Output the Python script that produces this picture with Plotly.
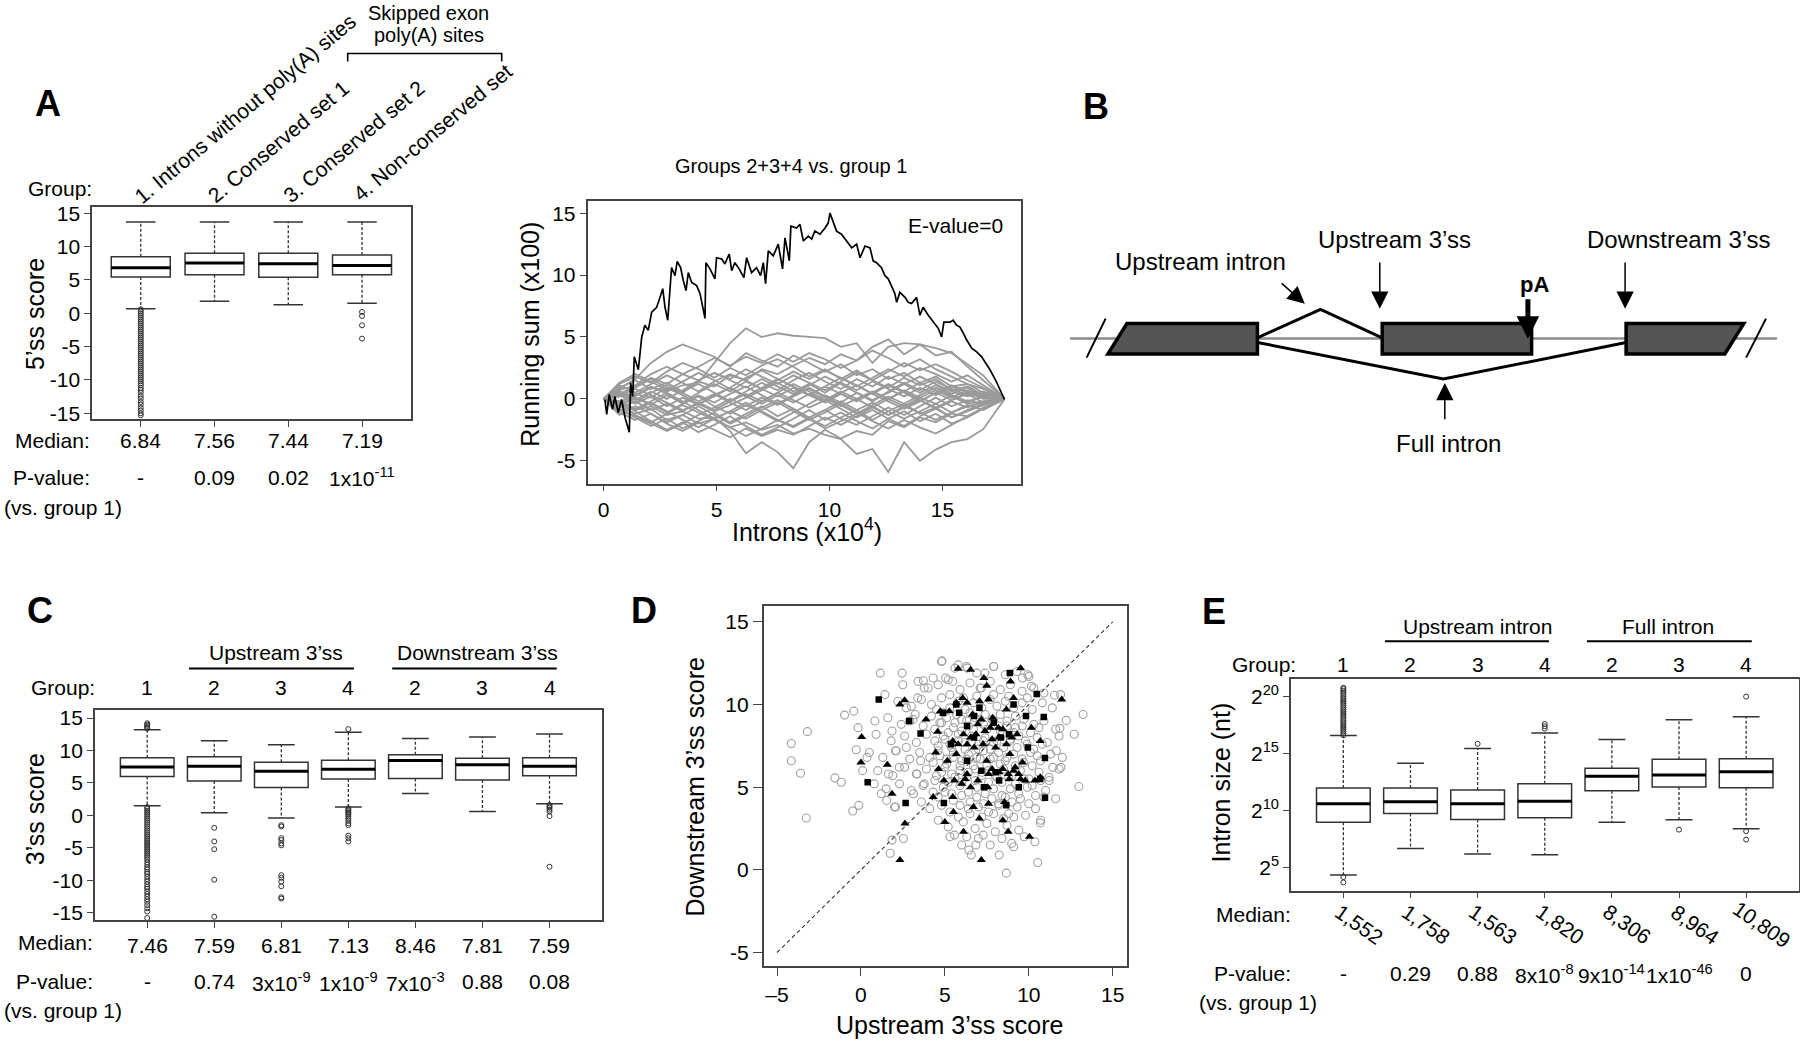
import plotly.graph_objects as go

W, H = 1800, 1045
FONT = "Liberation Sans, Arial, Helvetica, sans-serif"
FRAME = "#444444"
BOXC = "#333333"
TS = 21      # annotation text size
TICK = 21    # tick label size
TITLE = 25   # axis title size

# ---------------- Panel A : 5'ss score ----------------
A_pos = [1, 2, 3, 4]
A_labels = ["1. Introns without poly(A) sites", "2. Conserved set 1",
            "3. Conserved set 2", "4. Non-conserved set"]
A_q1 = [5.45, 5.8, 5.4, 5.8]
A_median = [6.84, 7.56, 7.44, 7.19]
A_q3 = [8.5, 9.0, 9.0, 8.76]
A_lo = [0.7, 1.8, 1.3, 1.5]
A_hi = [13.7, 13.7, 13.7, 13.7]
A_out = [
    [0.6, 0.3, 0.0, -0.3, -0.6, -0.9, -1.2, -1.5, -1.8, -2.1, -2.4, -2.7, -3.0, -3.3, -3.6,
     -3.9, -4.2, -4.5, -4.8, -5.1, -5.4, -5.7, -6.0, -6.3, -6.6, -6.9, -7.2, -7.5, -7.8,
     -8.1, -8.4, -8.7, -9.0, -9.3, -9.6, -9.9, -10.2, -10.5, -10.8, -11.2, -11.5, -11.9,
     -12.4, -12.8, -13.3, -13.7, -14.2, -14.6, -15.0, -15.3],
    [], [],
    [0.2, -0.4, -1.8, -3.8],
]
A_pval = ["-", "0.09", "0.02", "1x10<sup>-11</sup>"]

# ---------------- Panel A2 : running sums ----------------
RS_x = [0.06, 0.14, 0.25, 0.40, 0.50, 0.65, 0.80, 0.95, 1.14, 1.20,
        1.29, 1.36, 1.54, 1.69, 1.83, 1.98, 2.13, 2.35, 2.50, 2.62,
        2.72, 2.84, 3.01, 3.16, 3.26, 3.41, 3.53, 3.65, 3.75, 3.90,
        4.12, 4.27, 4.49, 4.53, 4.71, 4.93, 5.00, 5.23, 5.37, 5.56,
        5.67, 5.81, 6.00, 6.21, 6.33, 6.55, 6.77, 6.95, 7.07, 7.17,
        7.29, 7.51, 7.73, 7.92, 8.03, 8.22, 8.29, 8.54, 8.69, 8.84,
        9.06, 9.21, 9.35, 9.58, 9.80, 9.94, 10.02, 10.16, 10.31, 10.53,
        10.75, 10.98, 11.20, 11.35, 11.57, 11.79, 11.93, 12.08, 12.30, 12.45,
        12.60, 12.75, 12.89, 12.97, 13.11, 13.34, 13.48, 13.63, 13.85, 14.00,
        14.14, 14.37, 14.59, 14.81, 14.96, 15.06, 15.33, 15.47, 15.62, 15.77,
        15.92, 16.07, 16.29, 16.51, 16.73, 16.95, 17.10, 17.38, 17.54, 17.74]
RS_y = [-0.05, -1.25, 0.35, -0.85, 0.2, -1.1, -0.05, -1.5, -2.7, 1.3,
        0.2, 3.4, 2.35, 5.0, 5.95, 5.55, 7.0, 7.4, 8.2, 8.9,
        7.4, 6.35, 10.6, 9.95, 11.1, 10.6, 9.55, 8.75, 10.2, 9.4,
        9.15, 8.5, 6.5, 11.0, 10.5, 9.7, 11.4, 11.3, 10.9, 11.7,
        10.35, 11.0, 10.5, 9.8, 11.4, 10.2, 10.6, 9.95, 11.0, 9.3,
        11.95, 11.55, 12.5, 10.5, 13.0, 11.15, 13.95, 13.8, 14.1, 12.75,
        13.15, 12.9, 13.55, 13.3, 13.8, 14.2, 15.0, 14.35, 13.55, 13.3,
        12.75, 12.2, 12.5, 11.4, 12.35, 12.2, 11.15, 11.0, 10.6, 9.95,
        9.7, 9.0, 8.5, 7.8, 8.6, 8.2, 7.8, 7.7, 8.2, 6.75,
        7.4, 6.75, 6.2, 5.7, 5.0, 6.2, 6.2, 6.35, 5.95, 5.8,
        5.3, 4.75, 4.1, 3.8, 3.4, 2.75, 2.35, 1.4, 0.75, -0.05]

NULL_x = [0, 0.7, 1.4, 2.1, 2.8, 3.5, 4.2, 4.9, 5.6, 6.3, 7.0, 7.7, 8.4, 9.1, 9.8,
          10.5, 11.2, 11.9, 12.6, 13.3, 14.0, 14.7, 15.4, 16.1, 16.8, 17.75]
NULL_walks = [
    [0, 0.5, 0.2, 0.9, 0.6, 1.1, 1.3, 2.9, 4.5, 5.7, 5.0, 5.3, 5.1, 5.0, 4.9, 4.2, 4.5, 2.9, 4.2, 4.5, 4.4, 4.1, 3.7, 2.8, 1.9, 0],
    [0, 0.8, 1.6, 2.9, 3.8, 4.4, 3.9, 3.4, 2.6, 3.7, 3.1, 2.6, 3.5, 2.9, 2.2, 2.8, 1.9, 2.4, 1.6, 2.1, 1.3, 1.8, 1.0, 1.2, 0.5, 0],
    [0, -0.3, 0.4, 0.1, 0.9, 0.5, 1.4, 1.0, 1.9, 1.5, 2.4, 2.0, 2.7, 3.3, 2.8, 3.6, 3.1, 4.2, 4.8, 3.6, 4.4, 3.5, 3.8, 2.6, 1.5, 0],
    [0, -0.4, -0.9, -0.6, -1.3, -1.0, -1.6, -1.5, -2.6, -4.4, -3.5, -4.3, -5.6, -3.5, -2.5, -3.2, -2.6, -2.9, -1.8, -2.3, -1.5, -1.9, -1.2, -1.4, -0.7, 0],
    [0, -0.6, -1.2, -0.8, -1.7, -1.3, -2.0, -1.6, -2.3, -1.9, -2.5, -2.1, -2.8, -2.4, -2.9, -3.25, -4.45, -4.05, -5.9, -3.5, -5.0, -4.1, -3.5, -3.25, -2.45, 0],
    [0, 1.2, 1.8, 1.3, 2.2, 2.9, 2.4, 1.7, 2.5, 1.9, 2.7, 3.2, 2.6, 1.8, 2.4, 1.6, 2.3, 1.5, 0.9, 1.7, 1.1, 1.6, 0.7, 1.0, 0.3, 0],
    [0, -0.9, -1.5, -2.2, -1.6, -2.4, -1.8, -1.1, -1.9, -1.2, -0.6, -1.4, -0.8, -1.6, -2.2, -1.5, -0.9, -1.7, -1.0, -0.4, -1.2, -0.7, -1.5, -0.9, -0.4, 0],
    [0, 0.6, 0.1, -0.5, 0.3, -0.3, 0.5, 1.2, 0.6, 1.4, 0.8, 0.2, 0.9, 0.3, 1.0, 0.4, -0.2, 0.6, 0.0, 0.7, 0.1, -0.4, 0.3, -0.2, 0.2, 0],
    [0, -0.2, -1.0, -1.8, -2.5, -1.9, -2.7, -2.1, -1.4, -2.2, -2.9, -2.3, -1.6, -0.9, -1.7, -1.1, -1.8, -2.4, -1.6, -2.2, -1.4, -0.8, -1.5, -1.0, -0.5, 0],
    [0, 0.9, 1.5, 0.8, 1.3, 0.6, 1.2, 0.5, -0.2, 0.6, 1.3, 0.7, 1.5, 2.1, 1.4, 0.8, 1.6, 1.0, 1.8, 1.2, 0.5, 1.1, 0.4, 0.9, 0.2, 0],
    [0, -0.5, 0.3, 1.0, 0.4, -0.4, 0.2, -0.6, -1.2, -0.5, -1.1, -1.8, -1.1, -0.4, 0.3, -0.3, 0.5, -0.2, 0.6, 1.3, 0.7, 1.4, 0.8, 0.3, 0.6, 0],
    [0, 0.4, 1.0, 1.7, 1.2, 2.0, 2.6, 3.3, 2.7, 3.4, 2.9, 3.6, 3.0, 3.7, 3.2, 2.5, 3.1, 3.9, 3.3, 2.6, 3.2, 2.4, 1.8, 1.2, 0.8, 0],
    [0, -1.1, -1.7, -1.2, -2.0, -2.6, -1.9, -2.5, -3.1, -2.4, -3.0, -2.5, -2.9, -2.2, -1.5, -2.1, -1.4, -0.7, -1.3, -0.6, -1.1, -1.7, -1.1, -0.5, -0.9, 0],
    [0, 0.3, -0.4, 0.2, -0.6, 0.1, -0.5, 0.3, 0.9, 0.2, -0.4, 0.3, -0.3, 0.4, -0.2, 0.5, 1.1, 0.4, -0.2, -0.8, -0.2, 0.5, -0.1, 0.4, -0.3, 0],
    [0, 1.1, 0.5, 1.2, 1.9, 1.3, 0.6, 1.4, 2.0, 1.5, 0.8, 1.5, 2.2, 1.6, 2.3, 1.7, 1.0, 1.7, 2.4, 1.8, 2.5, 2.0, 1.4, 1.9, 1.1, 0],
    [0, -0.7, -0.2, -0.9, -0.4, -1.0, -0.3, -0.9, -0.2, 0.4, -0.2, 0.5, -0.1, -0.7, -0.1, -0.8, -1.5, -0.9, -1.6, -1.0, -1.8, -1.2, -2.0, -1.5, -0.8, 0],
    [0, 0.2, 0.8, 0.3, -0.3, -0.9, -0.4, -1.0, -0.5, 0.1, 0.7, 1.3, 0.6, 1.2, 0.5, 1.3, 0.7, 1.4, 0.8, 0.2, 0.9, 0.3, 1.0, 0.5, 0.1, 0],
    [0, -0.3, -1.3, -1.9, -1.2, -0.5, -1.1, -1.7, -2.3, -3.0, -2.4, -1.7, -2.3, -1.6, -2.4, -1.8, -1.2, -0.6, -1.3, -0.7, -0.1, -0.8, -0.2, -0.7, -0.2, 0],
    [0, 0.7, 1.1, 2.0, 2.6, 2.0, 1.5, 2.1, 1.6, 2.4, 1.8, 1.2, 1.9, 1.3, 0.7, 1.4, 2.1, 1.5, 2.2, 2.9, 2.3, 2.8, 2.2, 1.5, 0.9, 0],
    [0, -0.4, -0.9, -0.3, -1.0, -1.7, -2.3, -1.6, -1.0, -1.6, -0.9, -0.3, -1.0, -1.7, -1.1, -0.4, -1.1, -1.8, -2.4, -1.7, -2.3, -2.8, -2.1, -1.4, -0.8, 0],
    [0, 0.5, -0.1, 0.6, 0.0, 0.7, 1.5, 2.1, 1.5, 0.9, 1.6, 1.0, 0.4, 1.1, 1.8, 1.2, 0.5, -0.1, 0.5, 1.2, 1.8, 1.2, 0.6, 0.2, 0.4, 0],
    [0, -0.8, -1.4, -2.0, -2.6, -2.0, -1.3, -0.7, 0.0, -0.6, 0.1, -0.5, 0.2, 0.8, 0.1, -0.6, 0.0, 0.6, 0.0, -0.6, 0.1, 0.7, 0.2, -0.4, -0.2, 0],
    [0, 0.4, -0.3, 0.5, 1.1, 0.5, -0.2, 0.4, -0.3, -0.9, -0.2, 0.5, 1.2, 0.6, -0.1, 0.6, 0.0, -0.7, 0.0, 0.6, -0.1, -0.7, -0.1, 0.5, 0.0, 0],
    [0, -0.6, 0.1, -0.4, -1.1, -0.4, 0.3, -0.3, 0.4, 1.0, 0.3, -0.4, 0.3, 0.9, 0.2, -0.5, -1.2, -0.5, 0.2, -0.4, 0.3, 0.9, 0.3, -0.3, 0.2, 0],
    [0, 1.3, 2.0, 1.4, 0.7, 1.4, 2.1, 1.5, 0.8, 0.2, 0.9, 1.6, 1.0, 0.3, 1.0, 1.7, 1.1, 0.4, 1.1, 0.5, -0.2, 0.5, 1.1, 0.6, 0.3, 0],
    [0, -1.3, -0.6, -1.2, -1.9, -1.3, -0.6, -1.3, -2.0, -1.4, -0.7, -0.1, -0.8, -1.5, -0.9, -0.2, -0.9, -0.3, -1.0, -1.6, -1.0, -0.4, -1.1, -0.6, -0.3, 0],
    [0, 0.2, 0.9, 1.6, 0.9, 0.3, -0.4, 0.2, 0.9, 1.7, 2.3, 1.6, 1.0, 0.3, -0.3, 0.4, -0.2, 0.5, 1.2, 0.6, 1.3, 0.7, 0.1, 0.7, 0.2, 0],
    [0, -0.2, -0.8, -0.2, 0.5, -0.2, -0.9, -1.6, -1.0, -0.3, -1.0, -1.7, -2.2, -1.5, -0.9, -1.6, -2.1, -1.4, -0.7, -1.3, -0.6, 0.1, -0.6, -0.1, -0.4, 0],
]

# ---------------- Panel C : 3'ss score ----------------
C_pos = [1, 2, 3, 4, 5, 6, 7]
C_group = ["1", "2", "3", "4", "2", "3", "4"]
C_q1 = [6.0, 5.3, 4.3, 5.6, 5.7, 5.45, 6.1]
C_median = [7.46, 7.59, 6.81, 7.13, 8.46, 7.81, 7.59]
C_q3 = [8.9, 9.05, 8.2, 8.5, 9.35, 8.8, 8.9]
C_lo = [1.5, 0.4, -0.4, 1.3, 3.4, 0.6, 1.8]
C_hi = [13.2, 11.5, 10.9, 12.8, 11.85, 12.1, 12.55]
C_out = [
    [13.4, 13.6, 13.8, 14.0, 14.2, 1.3, 1.0, 0.7, 0.4, 0.1, -0.2, -0.5, -0.8, -1.1, -1.4,
     -1.7, -2.0, -2.3, -2.6, -2.9, -3.2, -3.5, -3.8, -4.1, -4.4, -4.7, -5.0, -5.3, -5.6,
     -5.9, -6.2, -6.5, -6.8, -7.2, -7.6, -8.0, -8.3, -8.7, -9.0, -9.4, -9.8, -10.2, -10.6,
     -11.0, -11.3, -11.7, -12.1, -12.5, -12.9, -13.3, -13.8, -14.3, -14.8, -15.8],
    [-1.9, -4.0, -5.2, -9.9, -15.6],
    [-1.5, -1.7, -3.5, -3.8, -4.3, -4.6, -9.2, -9.6, -10.2, -10.9, -12.6, -12.8],
    [13.3, 1.1, 0.9, 0.7, 0.5, 0.3, 0.1, -0.2, -0.5, -0.8, -1.2, -1.5, -3.1, -3.5, -4.0],
    [], [],
    [1.6, 1.4, 1.2, 0.9, 0.6, -0.1, -7.9],
]
C_pval = ["-", "0.74", "3x10<sup>-9</sup>", "1x10<sup>-9</sup>", "7x10<sup>-3</sup>", "0.88", "0.08"]

# ---------------- Panel D : scatter ----------------
D_open = [
    (-4.15, 7.64), (-4.15, 6.6), (-3.6, 5.84), (-3.19, 8.36), (-3.26, 3.14), (-1.55, 5.56),
    (-1.17, 5.3), (-0.98, 9.36), (-0.43, 9.6), (-0.49, 3.56), (-0.13, 3.9), (-0.28, 7.26),
    (-0.17, 8.6), (0.1, 6.0), (0.36, 6.8), (0.79, 5.2), (0.83, 9.0), (1.15, 11.9),
    (1.43, 10.6), (1.74, 1.0), (1.85, 1.8), (2.45, 11.9), (2.49, 11.2), (2.53, 1.9),
    (2.06, 3.8), (2.28, 6.2), (2.7, 7.4), (3.13, 4.6), (3.38, 10.4), (3.72, 11.44),
    (4.3, 11.6), (4.83, 12.64), (5.57, 2.1), (5.79, 12.4), (6.32, 12.2), (6.43, 1.2),
    (6.57, 0.9), (6.85, 1.5), (7.28, 2.1), (7.91, 12.3), (8.23, 0.9), (8.66, -0.2),
    (8.98, 1.6), (9.72, 2.0), (10.36, 1.7), (10.53, 0.44), (10.68, 2.84), (10.89, 4.4),
    (11.43, 6.2), (11.53, 10.56), (11.89, 10.6), (12.23, 9.04), (12.7, 8.2), (12.98, 5.04),
    (13.23, 9.4), (11.85, 8.56), (11.64, 7.2), (11.91, 6.2), (11.21, 5.4), (9.94, 11.8),
    (9.62, 11.6), (10.15, 11.1), (7.38, 11.9), (7.17, 11.0), (5.47, 11.4), (5.04, 11.6),
    (3.77, 11.0), (3.77, 5.2), (3.34, 5.8), (3.55, 6.6), (1.85, 8.4), (2.06, 7.2),
    (1.64, 5.8), (1.21, 4.6), (1.53, 4.2), (2.91, 9.0), (3.23, 9.4), (2.7, 9.8),
    (4.8, 12.6), (5.6, 12.2), (6.3, 12.3), (6.9, 11.9), (7.9, 12.3), (8.6, 11.8), (9.3, 12.0), (10.0, 11.7),
    (3.4, 11.4), (4.0, 11.0), (4.6, 11.2), (5.2, 11.5), (5.9, 10.9), (6.5, 11.3), (7.1, 11.0),
    (7.7, 11.4), (8.3, 10.9), (8.9, 11.2), (9.6, 10.8), (10.3, 11.0), (10.9, 10.7),
    (2.2, 10.2), (3.0, 9.9), (3.6, 10.3), (4.2, 10.0), (4.8, 10.4), (5.3, 9.8), (5.8, 10.2),
    (6.2, 9.7), (6.7, 10.1), (7.2, 9.8), (7.7, 10.3), (8.1, 9.9), (8.6, 10.2), (9.1, 9.8),
    (9.6, 10.1), (10.2, 9.7), (10.8, 10.1), (11.4, 9.8),
    (1.6, 9.2), (2.4, 8.8), (3.1, 9.1), (3.7, 8.7), (4.2, 9.3), (4.7, 8.9), (5.1, 9.2),
    (5.5, 8.6), (6.0, 9.1), (6.4, 8.7), (6.8, 9.2), (7.3, 8.8), (7.8, 9.1), (8.2, 8.7),
    (8.7, 9.0), (9.2, 8.6), (9.7, 9.1), (10.3, 8.8), (10.9, 9.0), (11.6, 8.5),
    (0.9, 8.2), (1.8, 7.8), (2.6, 8.1), (3.3, 7.7), (3.9, 8.2), (4.4, 7.8), (4.9, 8.1),
    (5.3, 7.6), (5.8, 8.2), (6.2, 7.7), (6.6, 8.1), (7.0, 7.6), (7.4, 8.0), (7.9, 7.7),
    (8.4, 8.2), (8.9, 7.8), (9.4, 8.1), (9.9, 7.6), (10.5, 8.0), (11.1, 7.7), (11.8, 8.1),
    (0.5, 7.1), (1.3, 6.8), (2.1, 7.2), (2.9, 6.7), (3.5, 7.1), (4.1, 6.8), (4.6, 7.2),
    (5.1, 6.7), (5.5, 7.1), (6.0, 6.6), (6.4, 7.0), (6.9, 6.8), (7.3, 7.2), (7.7, 6.7),
    (8.2, 7.1), (8.6, 6.6), (9.1, 7.0), (9.6, 6.7), (10.1, 7.1), (10.7, 6.6), (11.3, 7.0), (12.0, 6.8),
    (1.0, 6.0), (1.9, 5.7), (2.6, 6.2), (3.3, 5.8), (3.9, 6.1), (4.5, 5.7), (5.0, 6.2),
    (5.4, 5.8), (5.9, 6.0), (6.3, 5.6), (6.8, 6.1), (7.2, 5.7), (7.6, 6.0), (8.1, 5.6),
    (8.5, 6.1), (9.0, 5.7), (9.5, 6.0), (10.0, 5.5), (10.6, 5.9), (11.2, 5.6), (11.8, 6.1),
    (1.5, 4.9), (2.3, 5.2), (3.0, 4.8), (3.7, 5.1), (4.3, 4.7), (4.9, 5.0), (5.4, 4.6),
    (5.9, 5.1), (6.4, 4.7), (6.9, 5.0), (7.4, 4.6), (7.9, 4.9), (8.4, 4.5), (8.9, 4.9),
    (9.4, 4.6), (9.9, 5.0), (10.4, 4.5), (11.0, 4.8), (11.6, 4.3),
    (2.0, 3.8), (3.6, 4.1), (4.1, 3.7), (4.8, 3.9), (5.3, 3.5), (5.9, 3.9), (6.5, 3.4),
    (7.0, 3.8), (7.6, 3.5), (8.2, 3.9), (8.8, 3.4), (9.3, 3.8), (9.8, 3.3), (10.4, 3.7), (10.7, 3.0),
    (4.6, 3.0), (5.2, 2.6), (6.1, 2.9), (6.8, 2.5), (7.5, 2.8), (8.0, 2.3), (8.7, 2.7), (9.4, 2.4), (6.3, 2.0),
    (5.3, 2.0), (6.0, 1.5), (7.0, 1.9), (7.7, 1.5), (8.4, 1.9), (9.1, 1.4),
    (4.5, 9.7), (4.9, 9.5), (5.3, 10.6), (5.7, 9.4), (6.1, 10.4), (6.5, 9.5), (6.9, 10.5),
    (7.4, 9.4), (7.9, 10.6), (8.3, 9.4), (8.8, 10.5), (9.2, 9.3), (9.9, 10.4),
    (4.4, 8.5), (4.8, 8.9), (5.2, 8.3), (5.6, 8.9), (6.0, 8.4), (6.3, 9.0), (6.7, 8.5),
    (7.1, 9.1), (7.5, 8.5), (7.9, 9.0), (8.3, 8.4), (8.7, 8.7), (9.1, 8.3), (9.6, 8.7),
    (10.1, 8.3), (10.6, 8.6),
    (4.6, 7.5), (5.0, 7.9), (5.4, 7.4), (5.8, 7.8), (6.2, 7.3), (6.6, 7.7), (7.0, 7.3),
    (7.3, 7.8), (7.7, 7.3), (8.1, 7.8), (8.5, 7.4), (8.9, 7.9), (9.3, 7.4), (9.8, 7.8),
    (10.3, 7.3), (10.8, 7.6),
    (4.3, 6.5), (4.7, 6.9), (5.1, 6.4), (5.5, 6.8), (5.9, 6.3), (6.3, 6.7), (6.7, 6.3),
    (7.1, 6.7), (7.5, 6.3), (7.9, 6.8), (8.3, 6.4), (8.7, 6.8), (9.2, 6.3), (9.7, 6.5),
    (10.2, 6.3), (10.5, 6.9),
    (4.4, 5.4), (4.8, 5.9), (5.2, 5.3), (5.6, 5.6), (6.0, 5.3), (6.4, 5.9), (6.8, 5.4),
    (7.2, 5.9), (7.6, 5.3), (8.0, 5.7), (8.4, 5.3), (8.8, 5.6), (9.2, 5.2), (9.7, 5.5),
    (10.2, 5.1), (10.7, 5.4),
    (4.6, 4.4), (5.0, 4.7), (5.5, 4.2), (6.0, 4.5), (6.5, 4.1), (6.9, 4.4), (7.3, 4.0),
    (7.8, 4.3), (8.2, 4.0), (8.6, 4.4), (9.0, 4.1), (9.5, 4.3), (10.0, 4.0),
    (5.8, 3.2), (6.4, 3.7), (7.2, 3.2), (7.9, 3.4), (8.5, 3.1), (9.1, 3.2),
]
D_tri = [
    (0.04, 8.04), (0.0, 6.5), (1.57, 6.36), (1.85, 4.6), (2.32, 10.0), (2.6, 10.26),
    (2.62, 2.8), (2.32, 0.6), (3.87, 9.1), (4.57, 8.36), (4.3, 4.4), (4.45, 7.1),
    (4.62, 6.1), (5.0, 2.9), (4.72, 9.6), (4.94, 5.4), (5.47, 4.4), (5.57, 5.4),
    (5.51, 3.5), (5.79, 12.16), (6.06, 10.4), (6.11, 2.3), (6.53, 12.1), (6.21, 5.5),
    (6.7, 3.8), (6.96, 5.4), (7.06, 3.1), (7.17, 0.6), (7.32, 11.6), (7.49, 11.14),
    (7.6, 10.3), (7.28, 7.6), (7.49, 6.6), (7.55, 5.0), (7.6, 4.0), (7.85, 9.2),
    (8.19, 8.6), (8.45, 3.0), (8.55, 4.1), (8.66, 9.7), (8.77, 2.3), (8.91, 11.4),
    (9.09, 10.4), (9.19, 6.2), (9.3, 8.2), (9.51, 12.2), (9.62, 6.5), (9.79, 5.4),
    (10.04, 2.0), (10.15, 8.6), (10.36, 5.4), (10.68, 7.8), (10.68, 5.6), (11.96, 10.3),
    (8.83, 5.5), (5.26, 9.6), (5.47, 7.8), (5.79, 7.6), (6.11, 8.2), (6.32, 7.6),
    (6.53, 8.0), (6.74, 7.4), (6.85, 8.2), (6.96, 8.8), (7.17, 9.1), (7.38, 8.4),
    (7.70, 8.6), (7.81, 7.9), (8.02, 7.4), (8.23, 8.0), (8.45, 8.5), (8.66, 7.6),
    (8.87, 7.0), (8.98, 8.0), (7.6, 5.8), (7.81, 6.1), (8.23, 5.9), (8.45, 6.1),
    (8.77, 5.8), (9.09, 6.0), (9.4, 5.8), (9.51, 5.5), (6.32, 5.8), (6.53, 5.0),
    (6.0, 5.2), (5.68, 7.0), (5.15, 6.6), (6.64, 9.4), (6.32, 10.1), (5.68, 10.1), (7.06, 10.2),
]
D_sq = [
    (1.06, 10.3), (2.87, 9.0), (3.55, 8.24), (0.4, 5.3), (2.66, 4.04), (4.94, 4.04),
    (8.87, 11.9), (10.47, 10.64), (10.89, 9.24), (10.96, 4.36), (10.96, 6.76), (10.68, 5.5),
    (9.4, 5.0), (9.83, 9.3), (4.89, 9.5), (5.68, 10.0), (5.85, 9.5), (6.32, 8.7),
    (6.74, 9.3), (7.06, 9.8), (7.91, 8.9), (8.34, 8.0), (8.83, 8.2), (8.02, 5.9),
    (8.23, 5.4), (7.17, 6.0), (6.74, 8.0), (5.36, 7.6), (9.09, 10.0), (9.94, 7.4),
    (8.66, 3.9), (7.34, 5.0), (6.32, 6.6),
]

# ---------------- Panel E : intron size (nt) ----------------
E_pos = [1, 2, 3, 4, 5, 6, 7]
E_group = ["1", "2", "3", "4", "2", "3", "4"]
E_q1 = [501, 861, 600, 662, 3444, 4300, 4096]
E_median = [1552, 1758, 1563, 1820, 8306, 8964, 10809]
E_q3 = [4040, 4040, 3566, 5220, 13500, 23170, 24150]
E_lo = [20.5, 103, 73, 70, 501, 588, 342]
E_hi = [98000, 18200, 44800, 114000, 77400, 256000, 307000]
E_out = [
    [100000, 112000, 125000, 140000, 157000, 175000, 196000, 220000, 246000, 275000,
     308000, 345000, 386000, 432000, 484000, 542000, 607000, 680000, 760000, 850000,
     950000, 1060000, 1190000, 1330000, 1490000, 1660000, 1800000, 18, 13],
    [], [59500], [150000, 173000, 199000], [], [322], [1048576, 294, 176],
]
E_pval = ["-", "0.29", "0.88", "8x10<sup>-8</sup>", "9x10<sup>-14</sup>", "1x10<sup>-46</sup>", "0"]


def fx(px):
    return px / W


def fy(py):
    return 1 - py / H


traces = []


def box_panel(xa, ya, pos, q1, med, q3, lo, hi, outs, bw=0.8, cap=0.4):
    traces.append(go.Box(x=pos, q1=q1, median=med, q3=q3, lowerfence=q1, upperfence=q3,
                         width=bw, whiskerwidth=0, fillcolor="white",
                         line=dict(color=BOXC, width=1.5), boxpoints=False,
                         xaxis=xa, yaxis=ya, showlegend=False, hoverinfo="skip"))
    wx, wy, cx, cy, mx, my, ox, oy = [], [], [], [], [], [], [], []
    for p, a, m, b, l, h, o in zip(pos, q1, med, q3, lo, hi, outs):
        wx += [p, p, None, p, p, None]
        wy += [b, h, None, a, l, None]
        cx += [p - cap / 2, p + cap / 2, None, p - cap / 2, p + cap / 2, None]
        cy += [h, h, None, l, l, None]
        mx += [p - bw / 2, p + bw / 2, None]
        my += [m, m, None]
        ox += [p] * len(o)
        oy += list(o)
    traces.append(go.Scatter(x=wx, y=wy, mode="lines", line=dict(color=BOXC, width=1.3, dash="3px,2px"),
                             xaxis=xa, yaxis=ya, showlegend=False, hoverinfo="skip"))
    traces.append(go.Scatter(x=cx, y=cy, mode="lines", line=dict(color=BOXC, width=1.5),
                             xaxis=xa, yaxis=ya, showlegend=False, hoverinfo="skip"))
    traces.append(go.Scatter(x=mx, y=my, mode="lines", line=dict(color="black", width=3),
                             xaxis=xa, yaxis=ya, showlegend=False, hoverinfo="skip"))
    traces.append(go.Scatter(x=ox, y=oy, mode="markers",
                             marker=dict(symbol="circle-open", size=5, color=BOXC, line=dict(width=1)),
                             xaxis=xa, yaxis=ya, showlegend=False, hoverinfo="skip"))


box_panel("x", "y", A_pos, A_q1, A_median, A_q3, A_lo, A_hi, A_out)
box_panel("x3", "y3", C_pos, C_q1, C_median, C_q3, C_lo, C_hi, C_out)
box_panel("x5", "y5", E_pos, E_q1, E_median, E_q3, E_lo, E_hi, E_out)

# running sums
for walk in NULL_walks:
    traces.append(go.Scatter(x=NULL_x, y=walk, mode="lines", line=dict(color="#9a9a9a", width=1.8),
                             xaxis="x2", yaxis="y2", showlegend=False, hoverinfo="skip"))
traces.append(go.Scatter(x=RS_x, y=RS_y, mode="lines", line=dict(color="black", width=1.7),
                         xaxis="x2", yaxis="y2", showlegend=False, hoverinfo="skip"))

# scatter D
traces.append(go.Scatter(x=[p[0] for p in D_open], y=[p[1] for p in D_open], mode="markers",
                         marker=dict(symbol="circle-open", size=8, color="#a0a0a0", line=dict(width=1.1)),
                         xaxis="x4", yaxis="y4", showlegend=False, hoverinfo="skip"))
traces.append(go.Scatter(x=[-5, 15], y=[-5, 15], mode="lines",
                         line=dict(color="#333333", width=1.1, dash="4px,3px"),
                         xaxis="x4", yaxis="y4", showlegend=False, hoverinfo="skip"))
traces.append(go.Scatter(x=[p[0] for p in D_tri], y=[p[1] for p in D_tri], mode="markers",
                         marker=dict(symbol="triangle-up", size=8, color="black"),
                         xaxis="x4", yaxis="y4", showlegend=False, hoverinfo="skip"))
traces.append(go.Scatter(x=[p[0] for p in D_sq], y=[p[1] for p in D_sq], mode="markers",
                         marker=dict(symbol="square", size=6.5, color="black"),
                         xaxis="x4", yaxis="y4", showlegend=False, hoverinfo="skip"))

fig = go.Figure(data=traces)


def axstyle(dom, rng, anchor, size=TICK, **kw):
    d = dict(domain=dom, range=rng, anchor=anchor,
             showline=True, mirror=True, linecolor=FRAME, linewidth=1.5,
             ticks="outside", ticklen=6, tickwidth=1.3, tickcolor=FRAME,
             showgrid=False, zeroline=False, fixedrange=True,
             tickfont=dict(size=size, family=FONT, color="black"))
    d.update(kw)
    return d


def dom_x(a, b):
    return [fx(a), fx(b)]


def dom_y(top, bottom):
    return [fy(bottom), fy(top)]


sc_ticks = [-15, -10, -5, 0, 5, 10, 15]
sc_text = ["-15", "-10", "-5", "0", "5", "10", "15"]

fig.update_layout(
    width=W, height=H, margin=dict(l=0, r=0, t=0, b=0),
    paper_bgcolor="white", plot_bgcolor="white", showlegend=False,
    font=dict(family=FONT, color="black"),
    xaxis=axstyle(dom_x(92.1, 410.7), [0.34, 4.66], "y", tickvals=A_pos, showticklabels=False),
    yaxis=axstyle(dom_y(204, 418.3), [-15.9, 15.94], "x", tickvals=sc_ticks, ticktext=sc_text),
    xaxis2=axstyle(dom_x(587.5, 1021.4), [-0.71, 18.49], "y2", tickvals=[0, 5, 10, 15]),
    yaxis2=axstyle(dom_y(198.3, 483.3), [-6.85, 15.95], "x2",
                   tickvals=[-5, 0, 5, 10, 15], ticktext=["-5", "0", "5", "10", "15"]),
    xaxis3=axstyle(dom_x(94.9, 601.8), [0.22, 7.78], "y3", tickvals=C_pos, showticklabels=False),
    yaxis3=axstyle(dom_y(711.7, 924.3), [-16.17, 16.26], "x3", tickvals=sc_ticks, ticktext=sc_text),
    xaxis4=axstyle(dom_x(763.6, 1126.7), [-5.8, 15.83], "y4", ticklen=9,
                   tickvals=[-5, 0, 5, 10, 15], ticktext=["\u20135", "0", "5", "10", "15"]),
    yaxis4=axstyle(dom_y(607.3, 970), [-5.8, 15.93], "x4", ticklen=9,
                   tickvals=[-5, 0, 5, 10, 15], ticktext=["-5", "0", "5", "10", "15"]),
    xaxis5=axstyle(dom_x(1291, 1798.5), [0.22, 7.78], "y5", tickvals=E_pos, showticklabels=False),
    yaxis5=axstyle(dom_y(680.7, 894.3), [0.894, 6.481], "x5", type="log",
                   tickvals=[32, 1024, 32768, 1048576],
                   ticktext=["2<sup>5</sup>", "2<sup>10</sup>", "2<sup>15</sup>", "2<sup>20</sup>"]),
)

ann = []


def txt(s, x, y, size=TS, xa="center", ya="middle", angle=0, bold=False, xref="paper", xshift=0):
    ann.append(dict(text=f"<b>{s}</b>" if bold else s,
                    x=(x / W if xref == "paper" else x), y=fy(y),
                    xref=xref, yref="paper", showarrow=False, xanchor=xa, yanchor=ya,
                    textangle=angle, xshift=xshift,
                    font=dict(size=size, family=FONT, color="black")))


def arrow(tail, head, width=1.5, size=2.3):
    ann.append(dict(x=fx(head[0]), y=fy(head[1]), xref="paper", yref="paper",
                    ax=tail[0] - head[0], ay=tail[1] - head[1], axref="pixel", ayref="pixel",
                    showarrow=True, arrowhead=2, arrowsize=size, arrowwidth=width,
                    arrowcolor="black", text="", standoff=0))


# Panel A texts
txt("A", 48, 99, size=36, bold=True)
txt("Skipped exon", 428.5, 8, size=20)
txt("poly(A) sites", 429, 30, size=20)
for lab, c in zip(A_labels, [(245, 104), (278.3, 137.5), (354, 138), (432.5, 129)]):
    txt(lab, c[0], c[1], angle=-40)
txt("Group:", 94, 185, xa="right")
txt("Median:", 92.1, 440, xa="right")
txt("P-value:", 92.1, 477, xa="right")
txt("(vs. group 1)", 2, 507, xa="left")
for p, m, pv in zip(A_pos, A_median, A_pval):
    txt(f"{m:.2f}", p, 440, xref="x")
    txt(pv, p, 477, xref="x")
txt("5\u2019ss score", 35, 312, size=TITLE, angle=-90)

# Panel A2 texts
txt("Groups 2+3+4 vs. group 1", 791, 163, size=20)
txt("E-value=0", 955, 223, size=21)
txt("Running sum (x100)", 530, 333, size=TITLE, angle=-90)
txt("Introns (x10<sup>4</sup>)", 807, 530, size=TITLE)

# Panel C texts
txt("C", 39.5, 611, size=36, bold=True)
txt("Upstream 3\u2019ss", 275.6, 654)
txt("Downstream 3\u2019ss", 477.6, 654)
txt("Group:", 96.9, 689, xa="right")
txt("Median:", 94.9, 947, xa="right")
txt("P-value:", 94.9, 986, xa="right")
txt("(vs. group 1)", 2, 1015, xa="left")
for p, g, m, pv in zip(C_pos, C_group, C_median, C_pval):
    txt(g, p, 689, xref="x3")
    txt(f"{m:.2f}", p, 950, xref="x3")
    txt(pv, p, 986, xref="x3")
txt("3\u2019ss score", 35, 812, size=TITLE, angle=-90)

# Panel D texts
txt("D", 644, 611, size=36, bold=True)
txt("Downstream 3\u2019ss score", 695, 790, size=TITLE, angle=-90)
txt("Upstream 3\u2019ss score", 949, 1030, size=TITLE)

# Panel E texts
txt("E", 1214, 612, size=36, bold=True)
txt("Upstream intron", 1477.4, 627)
txt("Full intron", 1668.2, 627)
txt("Group:", 1297.8, 666, xa="right")
txt("Median:", 1292.5, 918, xa="right")
txt("P-value:", 1292.5, 978, xa="right")
txt("(vs. group 1)", 1257.6, 1007)
for p, g, m, pv in zip(E_pos, E_group, E_median, E_pval):
    txt(g, p, 666, xref="x5")
    txt(f"{m:,}", p, 928, xref="x5", angle=35, xshift=16)
    txt(pv, p, 978, xref="x5")
txt("Intron size (nt)", 1221, 785, size=TITLE, angle=-90)

# Panel B texts and arrows
txt("B", 1096, 102, size=36, bold=True)
txt("Upstream intron", 1200.5, 259, size=24)
txt("Upstream 3\u2019ss", 1394, 237, size=24)
txt("Downstream 3\u2019ss", 1678.7, 237, size=24)
txt("Full intron", 1448, 443, size=24)
txt("pA", 1534, 282, size=22, bold=True)
arrow((1280.2, 280), (1304.8, 301.7))
arrow((1379.8, 259), (1379.8, 306.7))
arrow((1625.1, 259), (1625.1, 306.7))
arrow((1444.8, 419.3), (1444.8, 381.7))
arrow((1527.9, 296), (1527.9, 337), width=5, size=0.9)


def path(pts, close=False):
    s = "M " + " L ".join(f"{fx(x):.5f},{fy(y):.5f}" for x, y in pts)
    return s + (" Z" if close else "")


shapes = []


def line(x0, y0, x1, y1, color="black", width=2):
    shapes.append(dict(type="line", xref="paper", yref="paper", x0=fx(x0), y0=fy(y0),
                       x1=fx(x1), y1=fy(y1), line=dict(color=color, width=width)))


# bracket (panel A)
line(347.7, 49, 501.7, 49, width=1.6)
line(347.7, 48.3, 347.7, 57, width=1.6)
line(501.7, 48.3, 501.7, 57, width=1.6)
# underlines (C, E)
line(189, 670, 353.9, 670, width=2)
line(392.2, 670, 556.7, 670, width=2)
line(1385, 642.3, 1548.9, 642.3, width=2)
line(1587, 642.3, 1751.8, 642.3, width=2)

# Panel B diagram
line(1070, 336.7, 1777, 336.7, color="#8c8c8c", width=2.5)
for pts in ([(1257.4, 336), (1320.5, 307.3), (1382.2, 336)],
            [(1257.4, 340.7), (1443.4, 377.7), (1626.1, 340.7)]):
    shapes.append(dict(type="path", xref="paper", yref="paper", path=path(pts),
                       line=dict(color="black", width=3)))
exons = [
    [(1126.9, 321.7), (1257.4, 321.7), (1257.4, 352.3), (1107.9, 352.3)],
    [(1382.2, 321.7), (1531.6, 321.7), (1531.6, 352.3), (1382.2, 352.3)],
    [(1626.1, 321.7), (1743.8, 321.7), (1724.8, 352.3), (1626.1, 352.3)],
]
for pts in exons:
    shapes.append(dict(type="path", xref="paper", yref="paper", path=path(pts, close=True),
                       fillcolor="#555555", line=dict(color="black", width=3.5)))
line(1086.6, 356, 1105.6, 316.7, width=2)
line(1746.1, 356, 1766, 316.7, width=2)

fig.update_layout(annotations=ann, shapes=shapes)
fig.write_html("out.html")
